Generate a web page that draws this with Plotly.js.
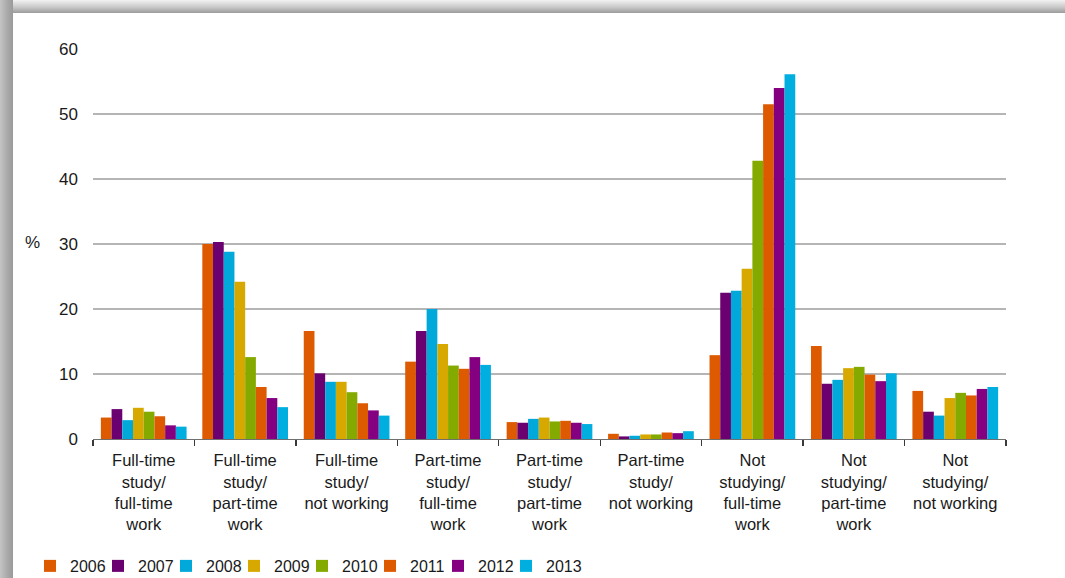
<!DOCTYPE html>
<html>
<head>
<meta charset="utf-8">
<script src="https://cdn.plot.ly/plotly-3.0.1.min.js"></script>
<style>
  html, body { margin:0; padding:0; background:#fff; width:1065px; height:578px; overflow:hidden; }
  #chart { position:absolute; left:0; top:0; width:1065px; height:578px; }
  .frameTop { position:absolute; left:0; top:0; width:1065px; height:13px; pointer-events:none;
    background:linear-gradient(to bottom, #f2f2f2 0%, #c8c8c8 55%, #9c9c9c 100%); }
  .frameLeft { position:absolute; left:0; top:0; width:13px; height:578px; pointer-events:none;
    background:linear-gradient(to right, #c4c4c4 0%, #a8a8a8 60%, #9a9a9a 100%); }
</style>
</head>
<body>
<div id="chart"></div>
<div class="frameTop"></div>
<div class="frameLeft"></div>
<script>
// Categories (x-axis tick labels)
var categories = [
  "Full-time<br>study/<br>full-time<br>work",
  "Full-time<br>study/<br>part-time<br>work",
  "Full-time<br>study/<br>not working",
  "Part-time<br>study/<br>full-time<br>work",
  "Part-time<br>study/<br>part-time<br>work",
  "Part-time<br>study/<br>not working",
  "Not<br>studying/<br>full-time<br>work",
  "Not<br>studying/<br>part-time<br>work",
  "Not<br>studying/<br>not working"
];

// Series names
var years = ["2006", "2007", "2008", "2009", "2010", "2011", "2012", "2013"];

// Series values (%), one array per year, in category order
var v2006 = [3.3, 30.0, 16.6, 11.9, 2.6, 0.8, 12.9, 14.3, 7.4];
var v2007 = [4.6, 30.3, 10.1, 16.6, 2.5, 0.4, 22.5, 8.5, 4.2];
var v2008 = [2.9, 28.8, 8.8, 20.0, 3.1, 0.5, 22.8, 9.1, 3.6];
var v2009 = [4.8, 24.2, 8.8, 14.6, 3.3, 0.7, 26.2, 10.9, 6.3];
var v2010 = [4.2, 12.6, 7.2, 11.3, 2.7, 0.7, 42.8, 11.1, 7.1];
var v2011 = [3.5, 8.0, 5.5, 10.8, 2.8, 1.0, 51.5, 9.9, 6.7];
var v2012 = [2.1, 6.3, 4.4, 12.6, 2.5, 0.9, 54.0, 8.9, 7.7];
var v2013 = [1.9, 4.9, 3.6, 11.4, 2.3, 1.2, 56.1, 10.1, 8.0];

var seriesValues = [v2006, v2007, v2008, v2009, v2010, v2011, v2012, v2013];
var colors = ["#DD5A00", "#6B0070", "#00A9D9", "#D7A900", "#84AA00", "#DD5A00", "#840081", "#00AEE0"];

var traces = years.map(function (yr, i) {
  return {
    type: "bar",
    name: yr,
    x: categories,
    y: seriesValues[i],
    marker: { color: colors[i], line: { width: 0 } },
    hoverinfo: "name+y"
  };
});

var font = "'Liberation Sans', Arial, sans-serif";

var layout = {
  width: 1065,
  height: 578,
  paper_bgcolor: "#ffffff",
  plot_bgcolor: "#ffffff",
  margin: { l: 93, r: 59, t: 49, b: 139, pad: 0, autoexpand: false },
  barmode: "group",
  bargap: 0.155,
  bargroupgap: 0,
  font: { family: font, size: 17, color: "#1a1a1a" },
  showlegend: true,
  legend: {
    orientation: "h",
    x: -0.069,
    xanchor: "left",
    y: -0.282,
    yanchor: "top",
    font: { family: font, size: 16, color: "#1a1a1a" },
    traceorder: "normal",
    itemwidth: 30,
    entrywidth: 23,
    entrywidthmode: "pixels",
    bgcolor: "rgba(0,0,0,0)"
  },
  xaxis: {
    type: "category",
    showgrid: false,
    zeroline: false,
    showline: true,
    linecolor: "#6f6f6f",
    linewidth: 1.3,
    ticks: "outside",
    tickson: "boundaries",
    ticklen: 6,
    tickwidth: 1.3,
    tickcolor: "#3a3a3a",
    tickangle: 0,
    ticklabelstandoff: 6,
    tickfont: { family: font, size: 16.5, color: "#1a1a1a" },
    automargin: false
  },
  yaxis: {
    range: [0, 60],
    tick0: 0,
    dtick: 10,
    showgrid: true,
    gridcolor: "#b5b5b5",
    gridwidth: 1.3,
    zeroline: false,
    showline: false,
    ticks: "",
    ticklabelstandoff: 14,
    tickfont: { family: font, size: 17, color: "#1a1a1a" },
    automargin: false,
    fixedrange: true
  },
  annotations: [
    {
      text: "%",
      xref: "paper", yref: "paper",
      x: -0.066, y: 0.503,
      xanchor: "center", yanchor: "middle",
      showarrow: false,
      font: { family: font, size: 17, color: "#1a1a1a" }
    }
  ]
};

Plotly.newPlot("chart", traces, layout, { displayModeBar: false, staticPlot: true }).then(function (gd) {
  // let the last legend label show in full (entry width is narrower than its text)
  var boxes = gd.querySelectorAll(".legend .scrollbox");
  boxes.forEach(function (el) { el.removeAttribute("clip-path"); });
});
</script>
</body>
</html>
